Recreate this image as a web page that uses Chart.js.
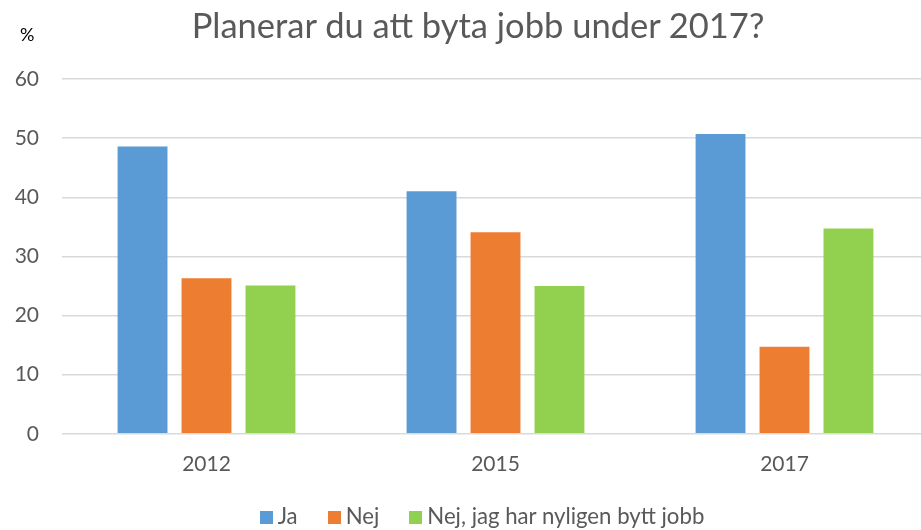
<!DOCTYPE html>
<html>
<head>
<meta charset="utf-8">
<script src="https://cdn.jsdelivr.net/npm/chart.js@4"></script>
<style>
  html, body { margin: 0; padding: 0; background: #fff; overflow: hidden; }
  #wrap { position: relative; width: 960px; height: 530px; }
  #title {
    position: absolute; left: 0; width: 956px; top: 4px;
    text-align: center; font-family: Lato, sans-serif; font-size: 34.5px; line-height: 41px;
    color: #595959; white-space: nowrap;
  }
  #legend {
    position: absolute; left: 2px; width: 960px; top: 503px;
    text-align: center; font-family: Lato, sans-serif; font-size: 22.2px; line-height: 26px;
    color: #595959; white-space: nowrap;
  }
  #legend span.item { display: inline-block; margin: 0 15px; }
  #legend span.box { display: inline-block; width: 13px; height: 13px; margin-right: 5px; vertical-align: 0px; }
</style>
</head>
<body>
<div id="wrap">
  <canvas id="chart" width="960" height="530"></canvas>
  <div id="title">Planerar du att byta jobb under 2017?</div>
  <div id="legend"></div>
</div>
<script>
// ============================================
// DATA
// ============================================
const categories = ['2012', '2015', '2017'];
const seriesNames = ['Ja', 'Nej', 'Nej, jag har nyligen bytt jobb'];
const jaValues = [48.6, 41.0, 50.7];
const nejValues = [26.3, 34.1, 14.7];
const nyligenValues = [25.1, 25.0, 34.7];
const yTicks = [0, 10, 20, 30, 40, 50, 60];

const colors = ['#5B9BD5', '#ED7D31', '#92D050'];
const textColor = '#595959';
const FONT = 'Lato, sans-serif';

// "%" unit label above the y axis
const unitLabel = {
    id: 'unitLabel',
    afterDraw(chart) {
        const ctx = chart.ctx;
        ctx.save();
        ctx.font = '18px ' + FONT;
        ctx.fillStyle = '#000';
        ctx.textAlign = 'left';
        ctx.textBaseline = 'middle';
        ctx.fillText('%', 20, 35);
        ctx.restore();
    }
};

function makeDataset(label, values, color) {
    return {
        label: label,
        data: values,
        backgroundColor: color,
        borderWidth: 0,
        categoryPercentage: 0.664,
        barPercentage: 0.78
    };
}

const chart = new Chart(document.getElementById('chart'), {
    type: 'bar',
    data: {
        labels: categories,
        datasets: [
            makeDataset(seriesNames[0], jaValues, colors[0]),
            makeDataset(seriesNames[1], nejValues, colors[1]),
            makeDataset(seriesNames[2], nyligenValues, colors[2])
        ]
    },
    options: {
        responsive: false,
        devicePixelRatio: 1,
        animation: false,
        layout: {
            padding: { left: 0, right: 31, top: 79, bottom: 43 }
        },
        plugins: {
            legend: { display: false },
            tooltip: { enabled: false },
            title: { display: false }
        },
        scales: {
            x: {
                grid: { display: false },
                border: { display: false },
                ticks: {
                    color: textColor,
                    font: { family: FONT, size: 21 },
                    padding: 10
                }
            },
            y: {
                min: 0,
                max: 60,
                afterBuildTicks(axis) {
                    axis.ticks = yTicks.map(v => ({ value: v }));
                },
                afterFit(axis) {
                    axis.width = 62;
                },
                grid: { color: '#D9D9D9', lineWidth: 1.5, drawTicks: false },
                border: { display: false },
                ticks: {
                    color: textColor,
                    font: { family: FONT, size: 21 },
                    padding: 23
                }
            }
        }
    },
    plugins: [unitLabel]
});

// HTML legend built from the datasets
const legendEl = document.getElementById('legend');
chart.data.datasets.forEach(ds => {
    const item = document.createElement('span');
    item.className = 'item';
    const box = document.createElement('span');
    box.className = 'box';
    box.style.background = ds.backgroundColor;
    item.appendChild(box);
    item.appendChild(document.createTextNode(ds.label));
    legendEl.appendChild(item);
});
</script>
</body>
</html>
